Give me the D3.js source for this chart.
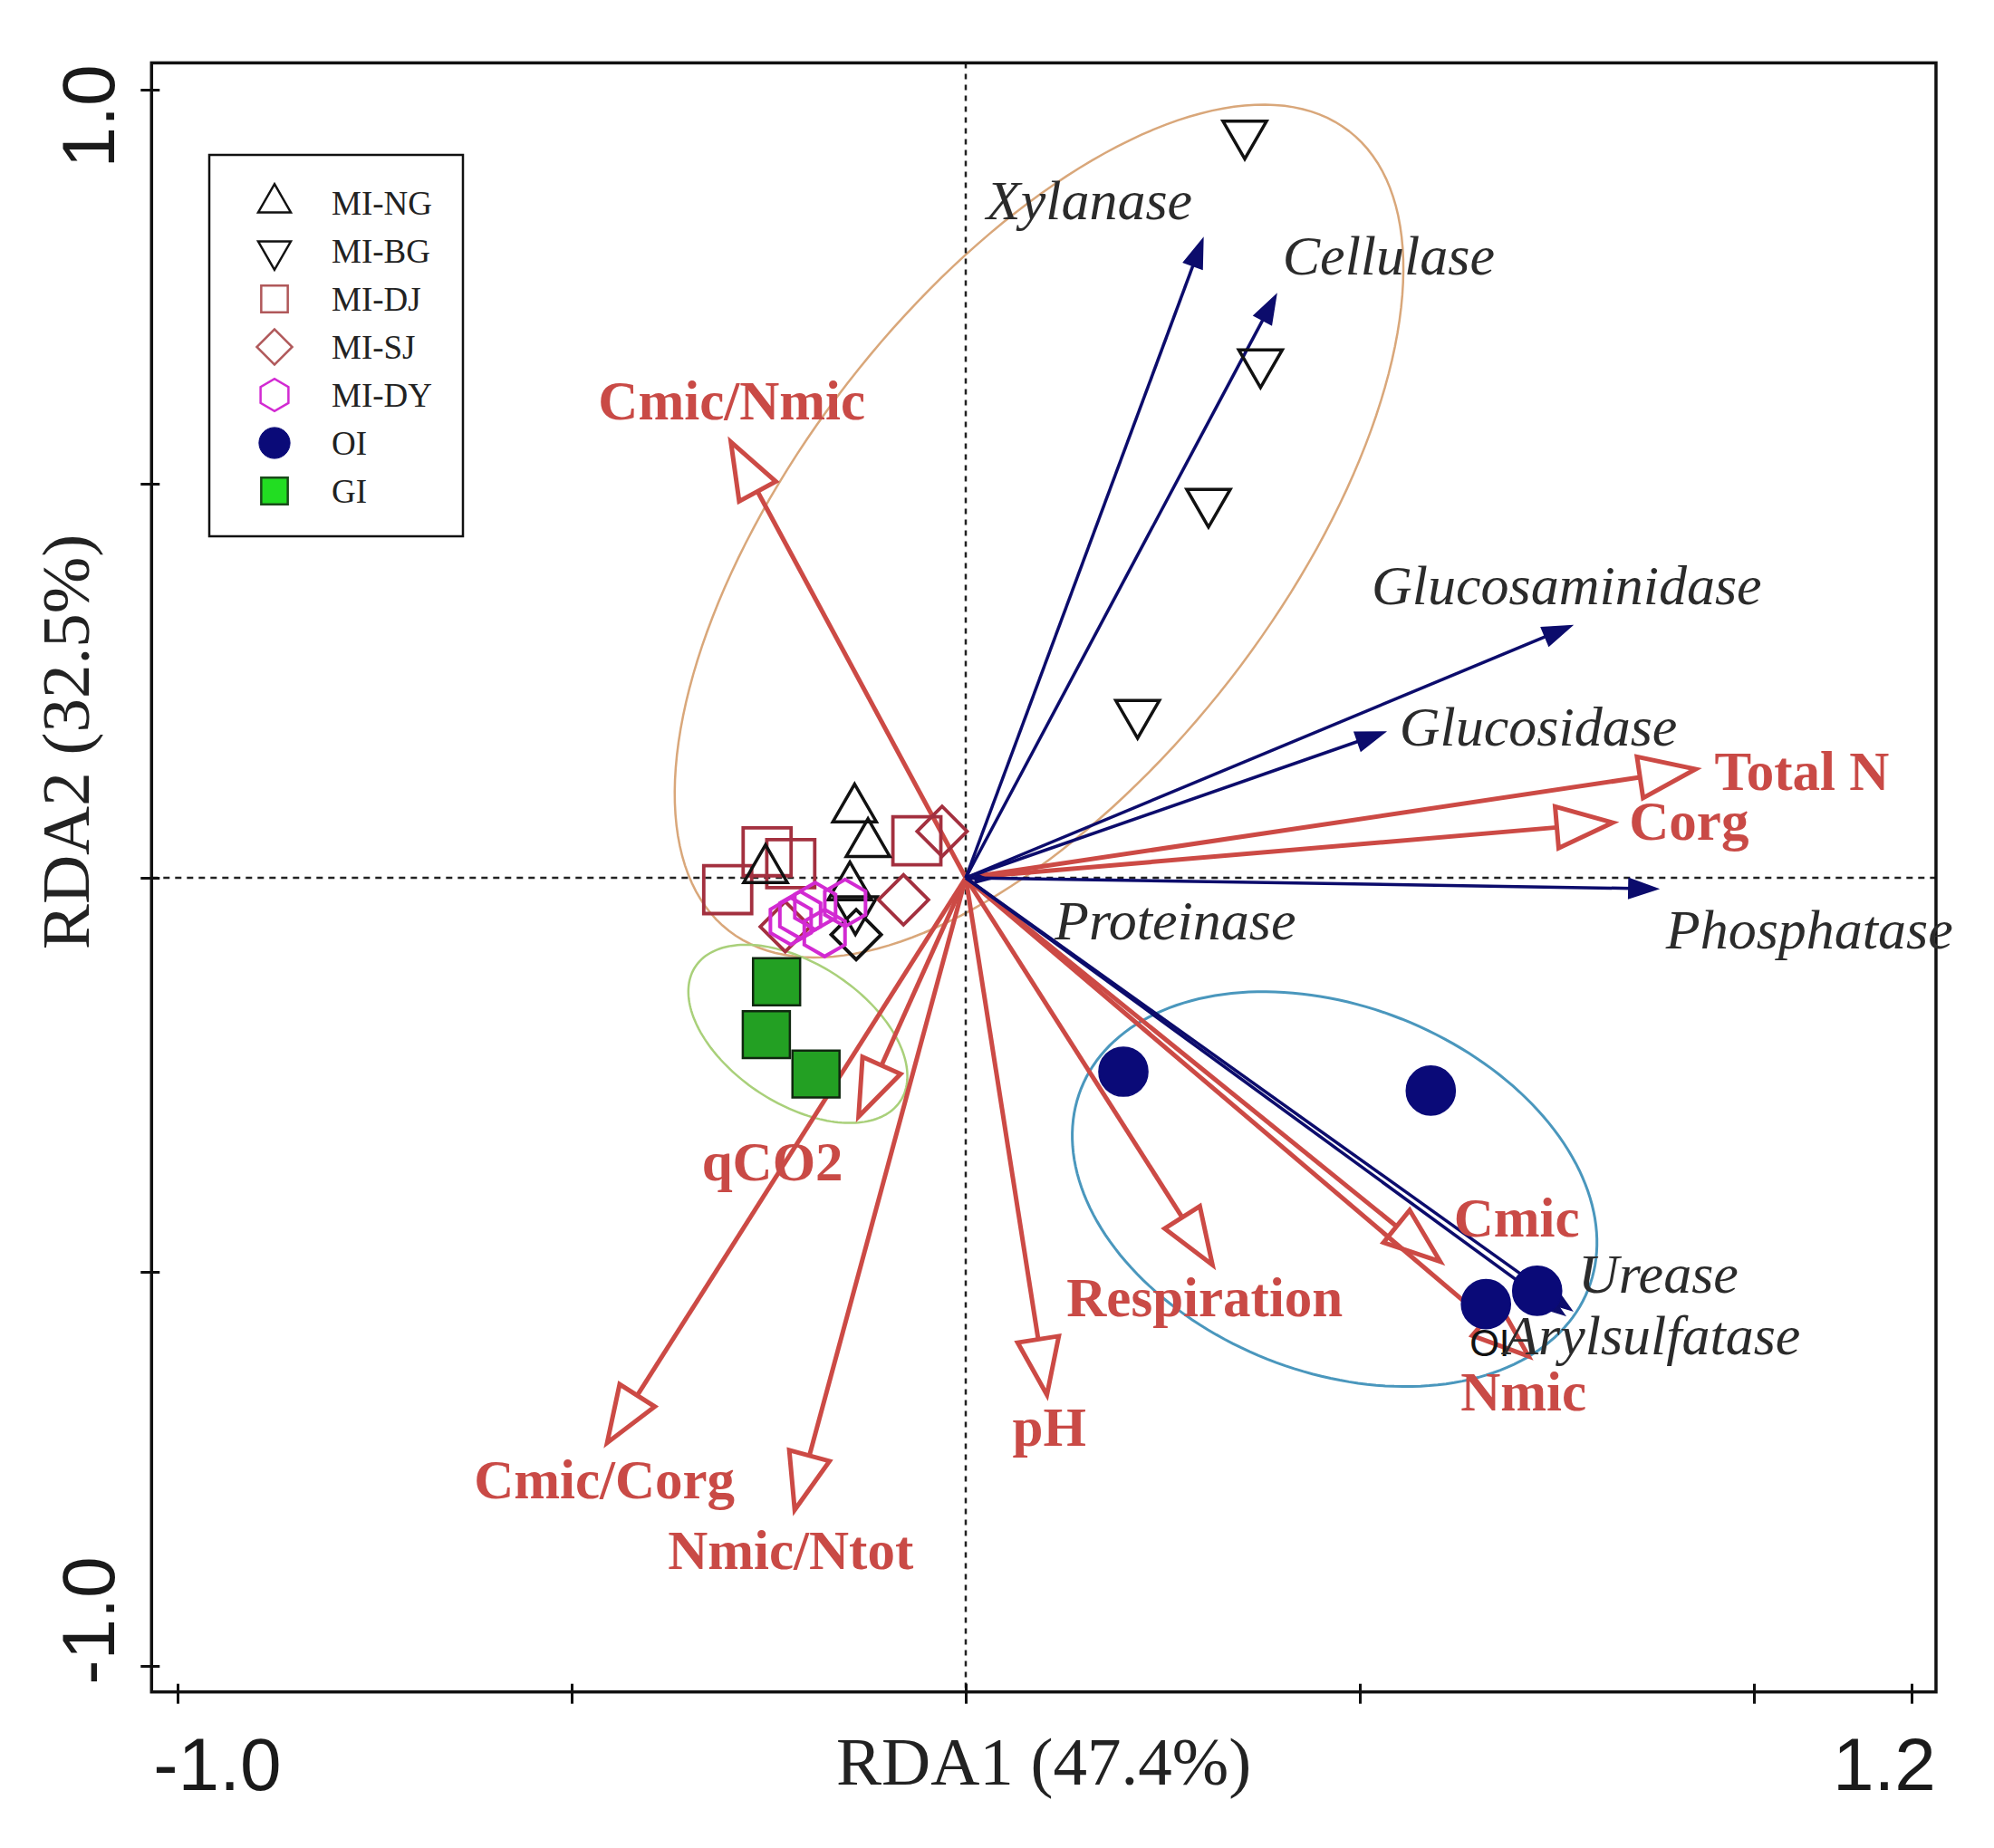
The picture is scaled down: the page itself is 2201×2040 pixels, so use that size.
<!DOCTYPE html>
<html><head><meta charset="utf-8">
<script src="https://cdn.jsdelivr.net/npm/d3@7"></script>
<style>body{margin:0;background:#fff}</style>
</head><body>
<svg id="chart" width="2201" height="2040"></svg>
<script>
// ---------------- DATA ----------------
const groupNames = ["MI-NG","MI-BG","MI-DJ","MI-SJ","MI-DY","OI","GI"];
// site scores [RDA1, RDA2]
const miNG = [[-0.141,0.087],[-0.124,0.043],[-0.254,0.010],[-0.147,-0.012]];
const miBG = [[0.354,0.944],[0.374,0.654],[0.308,0.477],[0.218,0.209],[-0.140,-0.040]];
const miDJ = [[-0.302,-0.015],[-0.252,0.033],[-0.222,0.018],[-0.062,0.047]];
const miSJ = [[-0.030,0.059],[-0.079,-0.028],[-0.229,-0.062]];
const miSJdark = [[-0.139,-0.072]];
const miDY = [[-0.222,-0.055],[-0.210,-0.047],[-0.191,-0.036],[-0.179,-0.070],[-0.153,-0.032]];
const oi = [[0.200,-0.246],[0.590,-0.270],[0.660,-0.541],[0.725,-0.524]];
const gi = [[-0.240,-0.132],[-0.253,-0.199],[-0.190,-0.249]];

// soil property vectors (red)
const propNames = ["Cmic/Nmic","Total N","Corg","Cmic","Nmic","Respiration","pH","qCO2","Cmic/Corg","Nmic/Ntot"];
const propX = [-0.298, 0.926, 0.821, 0.602, 0.714, 0.313, 0.103, -0.136, -0.455, -0.217];
const propY = [ 0.553, 0.138, 0.070,-0.487,-0.607,-0.491,-0.656,-0.303, -0.717, -0.802];

// enzyme vectors (navy)
const enzNames = ["Xylanase","Cellulase","Glucosaminidase","Glucosidase","Phosphatase","Proteinase","Urease","Arylsulfatase"];
const enzX = [0.301, 0.394, 0.769, 0.532, 0.878, 0.030, 0.769, 0.760];
const enzY = [0.811, 0.740, 0.320, 0.185,-0.014,-0.002,-0.549,-0.555];

// group ellipses: centre x, centre y, semi-axis a, semi-axis b, angle (deg)
const ellipseNames = ["MI","GI","OI"];
const ellipseCx = [0.093, -0.213, 0.468];
const ellipseCy = [0.440, -0.198, -0.395];
const ellipseA  = [0.642, 0.1555, 0.346];
const ellipseB  = [0.307, 0.0889, 0.232];
const ellipseAng= [52.2, -33.2, -21.6];

// axes
const xTickVals = [-1.0,-0.5,0,0.5,1.0,1.2];
const yTickVals = [-1.0,-0.5,0,0.5,1.0];
const xTickLabels = ["-1.0","1.2"];
const yTickLabels = ["1.0","-1.0"];
const xTitle = "RDA1 (47.4%)";
const yTitle = "RDA2 (32.5%)";
const strayLabel = "OI";

// ---------------- LAYOUT / STYLE ----------------
const svg = d3.select("#chart");
const x = d3.scaleLinear().domain([-1,1.2]).range([196,2110]);
const y = d3.scaleLinear().domain([-1,1]).range([1839,99]);
const xFrame = [-1.033,1.231], yFrame = [-1.033,1.034];
const fL = x(xFrame[0]), fR = x(xFrame[1]), fT = y(yFrame[1]), fB = y(yFrame[0]);

const RED = "#cc4a45", NAVY = "#0c0c6c", LABEL_RED = "#c94a46", ITAL = "#2b2b2b";
const serif = "'Liberation Serif','Times New Roman',serif";
const sans = "'Liberation Sans',Arial,sans-serif";

// ellipses
const ellG = svg.append("g");
const ellColors = ["#d9a77a","#a9d07a","#4a97bd"];
const ellWidths = [2.5,2.5,3];
const line = d3.line().x(d=>x(d[0])).y(d=>y(d[1])).curve(d3.curveLinearClosed);
ellipseNames.forEach((n,i)=>{
  const th = ellipseAng[i]*Math.PI/180, c=Math.cos(th), s=Math.sin(th);
  const pts = d3.range(0,360,2).map(t=>{
    const r=t*Math.PI/180, u=ellipseA[i]*Math.cos(r), v=ellipseB[i]*Math.sin(r);
    return [ellipseCx[i]+u*c-v*s, ellipseCy[i]+u*s+v*c];
  });
  ellG.append("path").attr("d",line(pts)).attr("fill","none")
    .attr("stroke",ellColors[i]).attr("stroke-width",ellWidths[i]);
});

// dashed reference lines
svg.append("line").attr("x1",x(0)).attr("x2",x(0)).attr("y1",fT).attr("y2",fB)
  .attr("stroke","#222").attr("stroke-width",2.5).attr("stroke-dasharray","6,6");
svg.append("line").attr("x1",fL).attr("x2",fR).attr("y1",y(0)).attr("y2",y(0))
  .attr("stroke","#222").attr("stroke-width",2.5).attr("stroke-dasharray","7,6");

// axes
const gx = svg.append("g").attr("transform",`translate(0,${fB})`)
  .call(d3.axisBottom(x).tickValues(xTickVals).tickFormat("").tickSize(13));
gx.select(".domain").remove();
gx.selectAll(".tick line").attr("y1",-9).attr("y2",13).attr("stroke","#111").attr("stroke-width",3);
const gy = svg.append("g").attr("transform",`translate(${fL},0)`)
  .call(d3.axisLeft(y).tickValues(yTickVals).tickFormat("").tickSize(13));
gy.select(".domain").remove();
gy.selectAll(".tick line").attr("x1",9).attr("x2",-12).attr("stroke","#111").attr("stroke-width",3);

svg.append("rect").attr("x",fL).attr("y",fT).attr("width",fR-fL).attr("height",fB-fT)
  .attr("fill","none").attr("stroke","#111").attr("stroke-width",3.5);

// tick labels
svg.append("text").attr("x",fL+2).attr("y",1976).attr("text-anchor","start")
  .attr("font-family",sans).attr("font-size",82).attr("fill","#1a1a1a").text(xTickLabels[0]);
svg.append("text").attr("x",fR).attr("y",1976).attr("text-anchor","end")
  .attr("font-family",sans).attr("font-size",82).attr("fill","#1a1a1a").text(xTickLabels[1]);
svg.append("text").attr("transform",`translate(126,${fT+2}) rotate(-90)`).attr("text-anchor","end")
  .attr("font-family",sans).attr("font-size",82).attr("fill","#1a1a1a").text(yTickLabels[0]);
svg.append("text").attr("transform",`translate(126,${fB-8}) rotate(-90)`).attr("text-anchor","start")
  .attr("font-family",sans).attr("font-size",82).attr("fill","#1a1a1a").text(yTickLabels[1]);

// axis titles
svg.append("text").attr("x",(fL+fR)/2).attr("y",1970).attr("text-anchor","middle")
  .attr("font-family",serif).attr("font-size",75).attr("fill","#222").text(xTitle);
svg.append("text").attr("transform",`translate(98,819) rotate(-90)`).attr("text-anchor","middle")
  .attr("font-family",serif).attr("font-size",75).attr("fill","#222").text(yTitle);

// red arrows (open heads)
const redG = svg.append("g");
const HL=62, HW=23;
propNames.forEach((n,i)=>{
  const x0=x(0), y0=y(0), x1=x(propX[i]), y1=y(propY[i]);
  const dx=x1-x0, dy=y1-y0, L=Math.hypot(dx,dy), ux=dx/L, uy=dy/L;
  const bx=x1-ux*HL, by=y1-uy*HL;
  redG.append("line").attr("x1",x0).attr("y1",y0).attr("x2",bx).attr("y2",by)
    .attr("stroke",RED).attr("stroke-width",5);
  redG.append("path").attr("d",`M${x1},${y1}L${bx-uy*HW},${by+ux*HW}L${bx+uy*HW},${by-ux*HW}Z`)
    .attr("fill","#fff").attr("stroke",RED).attr("stroke-width",5).attr("stroke-linejoin","miter");
});

// navy arrows (filled heads)
const blueG = svg.append("g");
const BL=32, BW=11;
enzNames.forEach((n,i)=>{
  const x0=x(0), y0=y(0), x1=x(enzX[i]), y1=y(enzY[i]);
  const dx=x1-x0, dy=y1-y0, L=Math.hypot(dx,dy), ux=dx/L, uy=dy/L;
  const bl=Math.min(BL,L*0.6), bw=BW*bl/BL;
  const bx=x1-ux*bl, by=y1-uy*bl;
  blueG.append("line").attr("x1",x0).attr("y1",y0).attr("x2",bx+ux*4).attr("y2",by+uy*4)
    .attr("stroke",NAVY).attr("stroke-width",3.5);
  blueG.append("path").attr("d",`M${x1},${y1}L${bx-uy*bw},${by+ux*bw}L${bx+uy*bw},${by-ux*bw}Z`)
    .attr("fill",NAVY).attr("stroke",NAVY).attr("stroke-width",1.5);
});

// symbols
const hexagon = { draw(ctx,size){ const r=Math.sqrt(2*size/(3*Math.sqrt(3)));
  for(let k=0;k<6;k++){const a=Math.PI/6+k*Math.PI/3; const px=r*Math.cos(a), py=r*Math.sin(a);
    if(k===0) ctx.moveTo(px,py); else ctx.lineTo(px,py);} ctx.closePath(); } };
const styles = {
  "MI-NG":{type:d3.symbolTriangle,size:1000,rot:0,stroke:"#111",fill:"none",sw:3.5,lsize:560},
  "MI-BG":{type:d3.symbolTriangle,size:1000,rot:180,stroke:"#111",fill:"none",sw:3.5,lsize:560},
  "MI-DJ":{type:d3.symbolSquare,size:2800,rot:0,stroke:"#a3303f",fill:"none",sw:3.8,lsize:860},
  "MI-SJ":{type:d3.symbolSquare,size:1520,rot:45,stroke:"#a3303f",fill:"none",sw:3.8,lsize:760},
  "MI-SJd":{type:d3.symbolSquare,size:1520,rot:45,stroke:"#111",fill:"none",sw:3.8,lsize:760},
  "MI-DY":{type:hexagon,size:1750,rot:0,stroke:"#d22ad2",fill:"none",sw:4,lsize:820},
  "OI":{type:d3.symbolCircle,size:2300,rot:0,stroke:"#0a0a78",fill:"#0a0a78",sw:1.5,lsize:920},
  "GI":{type:d3.symbolSquare,size:2700,rot:0,stroke:"#102810",fill:"#23a023",sw:2.5,lsize:860}
};
const ptsG = svg.append("g");
function drawPts(arr,key){
  const st=styles[key];
  ptsG.selectAll(null).data(arr).enter().append("path")
    .attr("d",d3.symbol().type(st.type).size(st.size)())
    .attr("transform",d=>`translate(${x(d[0])},${y(d[1])}) rotate(${st.rot})`)
    .attr("fill",st.fill).attr("stroke",st.stroke).attr("stroke-width",st.sw);
}
drawPts(gi,"GI");
drawPts(miDJ,"MI-DJ");
drawPts(miNG,"MI-NG");
drawPts(miBG,"MI-BG");
drawPts(miSJ,"MI-SJ");
drawPts(miSJdark,"MI-SJd");
drawPts(miDY,"MI-DY");
drawPts(oi,"OI");

// stray "OI" text
svg.append("text").attr("x",x(oi[2][0])-18).attr("y",y(oi[2][1])+57)
  .attr("font-family",sans).attr("font-size",42).attr("fill","#111").text(strayLabel);

// labels
const propLabelOff = {"Cmic/Nmic":[1,-25,"middle"],"Total N":[21,23,"start"],"Corg":[18,19,"start"],
  "Cmic":[15,-28,"start"],"Nmic":[-75,60,"start"],"Respiration":[-161,57,"start"],"pH":[-38,56,"start"],
  "qCO2":[-173,70,"start"],"Cmic/Corg":[-147,61,"start"],"Nmic/Ntot":[-140,65,"start"]};
propNames.forEach((n,i)=>{
  const o=propLabelOff[n];
  svg.append("text").attr("x",x(propX[i])+o[0]).attr("y",y(propY[i])+o[1]).attr("text-anchor",o[2])
    .attr("font-family",serif).attr("font-weight","bold").attr("font-size",61).attr("fill",LABEL_RED).text(n);
});
const enzLabelOff = {"Xylanase":[-239,-21],"Cellulase":[7,-22],"Glucosaminidase":[-221,-24],
  "Glucosidase":[16,15],"Phosphatase":[9,66],"Proteinase":[72,66],"Urease":[7,-20],"Arylsulfatase":[-67,43]};
enzNames.forEach((n,i)=>{
  const o=enzLabelOff[n];
  svg.append("text").attr("x",x(enzX[i])+o[0]).attr("y",y(enzY[i])+o[1])
    .attr("font-family",serif).attr("font-style","italic").attr("font-size",62).attr("fill",ITAL).text(n);
});

// legend
const lg = svg.append("g");
lg.append("rect").attr("x",231).attr("y",171).attr("width",280).attr("height",421)
  .attr("fill","#fff").attr("stroke","#111").attr("stroke-width",2.5);
const legendStyle = {"MI-DJ":{stroke:"#b0585a"},"MI-SJ":{stroke:"#b0585a"},"GI":{fill:"#22dd22",stroke:"#1a4a1a"},"OI":{}};
groupNames.forEach((g,i)=>{
  const st=Object.assign({},styles[g],legendStyle[g]||{});
  const cy=224+i*53;
  lg.append("path").attr("d",d3.symbol().type(st.type).size(st.lsize)())
    .attr("transform",`translate(303,${cy}) rotate(${st.rot})`)
    .attr("fill",st.fill).attr("stroke",st.stroke).attr("stroke-width",g==="OI"?1:2.5);
  lg.append("text").attr("x",366).attr("y",cy+13).attr("font-family",serif)
    .attr("font-size",37).attr("fill","#222").text(g);
});
</script>
</body></html>
